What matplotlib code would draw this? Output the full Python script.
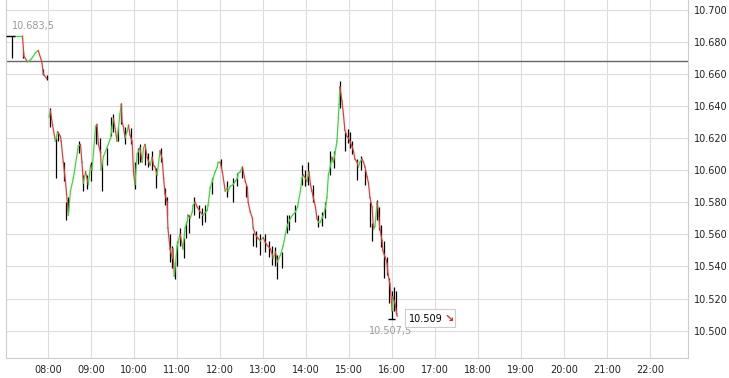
import matplotlib
matplotlib.use('Agg')
import matplotlib.pyplot as plt
import matplotlib.dates as mdates
from matplotlib.patches import Rectangle
from matplotlib.ticker import FuncFormatter
import pandas as pd

day = pd.Timestamp('2015-01-01')

# minutes after midnight / close of each bar
minutes = [429, 444, 446, 451, 456, 462, 466, 471, 473, 478,
           481, 483, 486, 490, 493, 497, 498, 501, 504, 507, 508, 511, 515, 522, 525,
           527, 529, 532, 536, 539, 541, 543, 546, 548, 550, 553, 554, 557, 562, 567,
           569, 571, 574, 576, 580, 582, 583, 585, 587, 590, 592, 594, 597, 599, 601,
           604, 608, 611, 613, 615, 618, 622, 625, 627, 629, 632, 636, 639, 641, 643,
           646, 647, 650, 653, 654, 656, 660, 661, 664, 668, 671, 674, 675, 678, 681,
           682, 685, 688, 692, 696, 702, 703, 706, 709, 710, 713, 716, 717, 720, 723,
           727, 730, 731, 734, 738, 741, 744, 745, 748, 751, 755, 758, 759, 762, 765,
           766, 769, 772, 776, 780, 783, 786, 790, 793, 794, 797, 800, 804, 808, 811,
           814, 818, 821, 825, 828, 829, 832, 834, 836, 839, 841, 843, 844, 846, 848,
           850, 853, 855, 857, 860, 862, 864, 867, 869, 871, 874, 876, 878, 880, 883,
           885, 886, 887, 890, 892, 894, 897, 899, 901, 904, 906, 908, 911, 913, 915,
           918, 920, 922, 925, 927, 929, 932, 934, 936, 939, 941, 943, 946, 947, 950,
           953, 954, 957, 960, 961, 964, 967]
closes = [10683.5, 10683.5, 10671, 10667.5, 10669, 10673, 10674.5, 10667.5, 10660, 10657,
          10633, 10637, 10628, 10618, 10624, 10621, 10618, 10605, 10593, 10578, 10572, 10587, 10595, 10615, 10616,
          10605, 10592, 10599, 10591, 10603, 10600, 10610, 10627, 10628.5, 10616, 10611, 10600, 10608.5, 10614, 10620,
          10627, 10632, 10624, 10618, 10635, 10641, 10630, 10627, 10620, 10624, 10628, 10622, 10618, 10599, 10591,
          10610, 10614, 10605, 10614, 10616, 10608, 10603, 10608, 10603, 10602, 10597, 10612, 10607, 10595, 10585,
          10580, 10564, 10551, 10545, 10551, 10534, 10553, 10555, 10560, 10551, 10564, 10568, 10572, 10570, 10574,
          10578, 10580, 10577, 10574, 10572, 10575, 10578, 10589, 10593, 10595, 10599, 10602, 10605, 10605, 10599,
          10587, 10589, 10587, 10590, 10591, 10593, 10595, 10598, 10599, 10602, 10593, 10589, 10580, 10574, 10570,
          10564, 10560, 10558, 10556, 10558, 10555, 10553, 10551, 10547, 10545, 10549, 10543, 10547, 10553, 10560,
          10566, 10570, 10572, 10574, 10577, 10580, 10587, 10595, 10597, 10595, 10593, 10597, 10599, 10591, 10587,
          10583, 10577, 10570, 10568, 10568, 10570, 10572, 10577, 10583, 10597, 10603, 10608, 10605, 10610, 10618,
          10633, 10641, 10652, 10643, 10635, 10625, 10621, 10620, 10618, 10615, 10612, 10607, 10605, 10602, 10605,
          10607, 10605, 10602, 10596, 10592, 10583, 10577, 10563, 10565, 10580, 10573, 10563, 10556, 10550, 10546,
          10542, 10536, 10529, 10512.5, 10521, 10517, 10509]

# high-low ticks
wick_minutes = [429, 445, 473, 478, 483, 491, 494, 502, 505, 507, 523, 529, 534, 540, 547, 552, 555, 562,
                567, 571, 577, 581, 587, 596, 601, 605, 608, 615, 619, 625, 631, 637, 643, 646, 650, 653,
                657, 659, 664, 669, 672, 676, 683, 690, 694, 699, 708, 721, 729, 738, 743, 750, 756, 766,
                770, 775, 783, 788, 792, 796, 799, 806, 813, 816, 825, 834, 838, 843, 850, 857, 862, 866,
                873, 879, 887, 894, 899, 901, 904, 911, 917, 922, 929, 932, 939, 941, 944, 948, 949, 953,
                956, 960, 963, 966]
wick_high = [10683.5, 10674, 10663, 10659, 10639, 10620, 10624, 10605, 10580, 10583, 10618, 10597, 10597, 10605,
             10628.5, 10620, 10605, 10614, 10633, 10635, 10627, 10642, 10627, 10626, 10605, 10614, 10616, 10614,
             10611, 10612, 10601.5, 10614, 10589, 10583, 10560, 10553, 10543, 10556, 10564, 10558, 10568, 10572,
             10583, 10578, 10576.5, 10578, 10595, 10607, 10593, 10595, 10598, 10602, 10591, 10561, 10562, 10560,
             10560, 10556, 10553, 10552, 10547, 10549, 10572, 10572, 10578, 10603, 10600, 10605, 10591, 10572,
             10574, 10580, 10612, 10612, 10655.5, 10624, 10625.5, 10624, 10618, 10607, 10609, 10600, 10580, 10567,
             10581.5, 10577, 10566, 10556, 10544, 10546, 10533, 10525, 10527, 10525]
wick_low = [10670, 10670, 10659, 10656, 10627, 10595, 10618, 10593, 10569, 10574, 10611, 10587, 10588, 10593,
            10616, 10611, 10587, 10603, 10621, 10624, 10618, 10628.5, 10616, 10616, 10588, 10604, 10605, 10603,
            10602, 10600, 10589, 10605, 10578, 10572, 10543, 10539, 10532, 10540, 10553, 10545, 10558, 10561,
            10572, 10570, 10566, 10568, 10585, 10601.5, 10583, 10580, 10590, 10595, 10583, 10553, 10552, 10547,
            10549, 10546, 10541, 10540, 10532.5, 10539, 10561, 10563, 10568, 10591, 10590, 10591, 10580, 10564.5,
            10565, 10570, 10597, 10601.5, 10639, 10612, 10617, 10614, 10610, 10594, 10600, 10591, 10564.5, 10556,
            10569, 10563, 10552, 10539.5, 10533, 10535, 10517, 10507.5, 10512.5, 10510.5]

session_open = 481  # first bar after the opening gap
prev_close = 10668
day_high = 10683.5
day_low = 10507.5
last = 10509

def to_time(m):
    return day + pd.to_timedelta(m, unit='min')

t = [to_time(m) for m in minutes]
wt = [to_time(m) for m in wick_minutes]

fig = plt.figure(figsize=(7.29, 3.78), dpi=100)
ax = fig.add_axes([6 / 729, 20 / 378, 682 / 729, 358 / 378])

ax.grid(True, color='#dcdcdc', linewidth=0.8)
ax.set_axisbelow(True)

ax.axhline(prev_close, color='#666666', linewidth=1.0, zorder=2)

ax.vlines(wt, wick_low, wick_high, color='black', linewidth=0.9, zorder=3)
for i in range(1, len(t)):
    if minutes[i] == session_open:
        continue
    c = '#3ad83a' if closes[i] >= closes[i - 1] else '#e23c3c'
    ax.plot(t[i - 1:i + 1], closes[i - 1:i + 1], color=c, linewidth=0.9, zorder=4)

# max / min markers
ax.hlines(day_high, to_time(421), to_time(434), color='black', linewidth=1.0, zorder=5)
ax.hlines(day_low, to_time(954), to_time(964), color='black', linewidth=1.0, zorder=5)

fmt = lambda v: f'{v:,.1f}'.replace(',', ' ').replace('.', ',').replace(' ', '.')
ax.text(to_time(430), 10690, fmt(day_high), color='#9a9a9a', fontsize=7, ha='left', va='center')
ax.text(to_time(958), 10500, fmt(day_low), color='#9a9a9a', fontsize=7, ha='center', va='center')

# last price box
box_x0, box_x1 = mdates.date2num(to_time(978)), mdates.date2num(to_time(1048))
ax.add_patch(Rectangle((box_x0, 10502), box_x1 - box_x0, 11.3, facecolor='white',
                       edgecolor='#cccccc', linewidth=0.8, zorder=6))
ax.text(to_time(983), 10507.6, f'{last:,.0f}'.replace(',', '.'), fontsize=7, color='black',
        ha='left', va='center', zorder=7)
ax.text(to_time(1033), 10507.6, '\u2198', fontsize=8, color='#e8202a', fontweight='bold',
        ha='left', va='center', zorder=7)

ax.set_xlim(to_time(421), to_time(1373))
ax.set_ylim(10483, 10706)
ax.set_yticks(range(10500, 10701, 20))
ax.yaxis.set_major_formatter(FuncFormatter(lambda v, p: f'{v:,.0f}'.replace(',', '.')))
ax.yaxis.tick_right()
ax.xaxis.set_major_locator(mdates.HourLocator(byhour=range(8, 23)))
ax.xaxis.set_major_formatter(mdates.DateFormatter('%H:%M'))
ax.tick_params(axis='both', length=0, labelsize=7, colors='#222222')
ax.tick_params(axis='x', pad=5)
ax.tick_params(axis='y', pad=4)

for side in ['left', 'bottom', 'right']:
    ax.spines[side].set_color('#cccccc')
    ax.spines[side].set_linewidth(0.8)
ax.spines['top'].set_visible(False)

fig.savefig('out.png', dpi=100)
